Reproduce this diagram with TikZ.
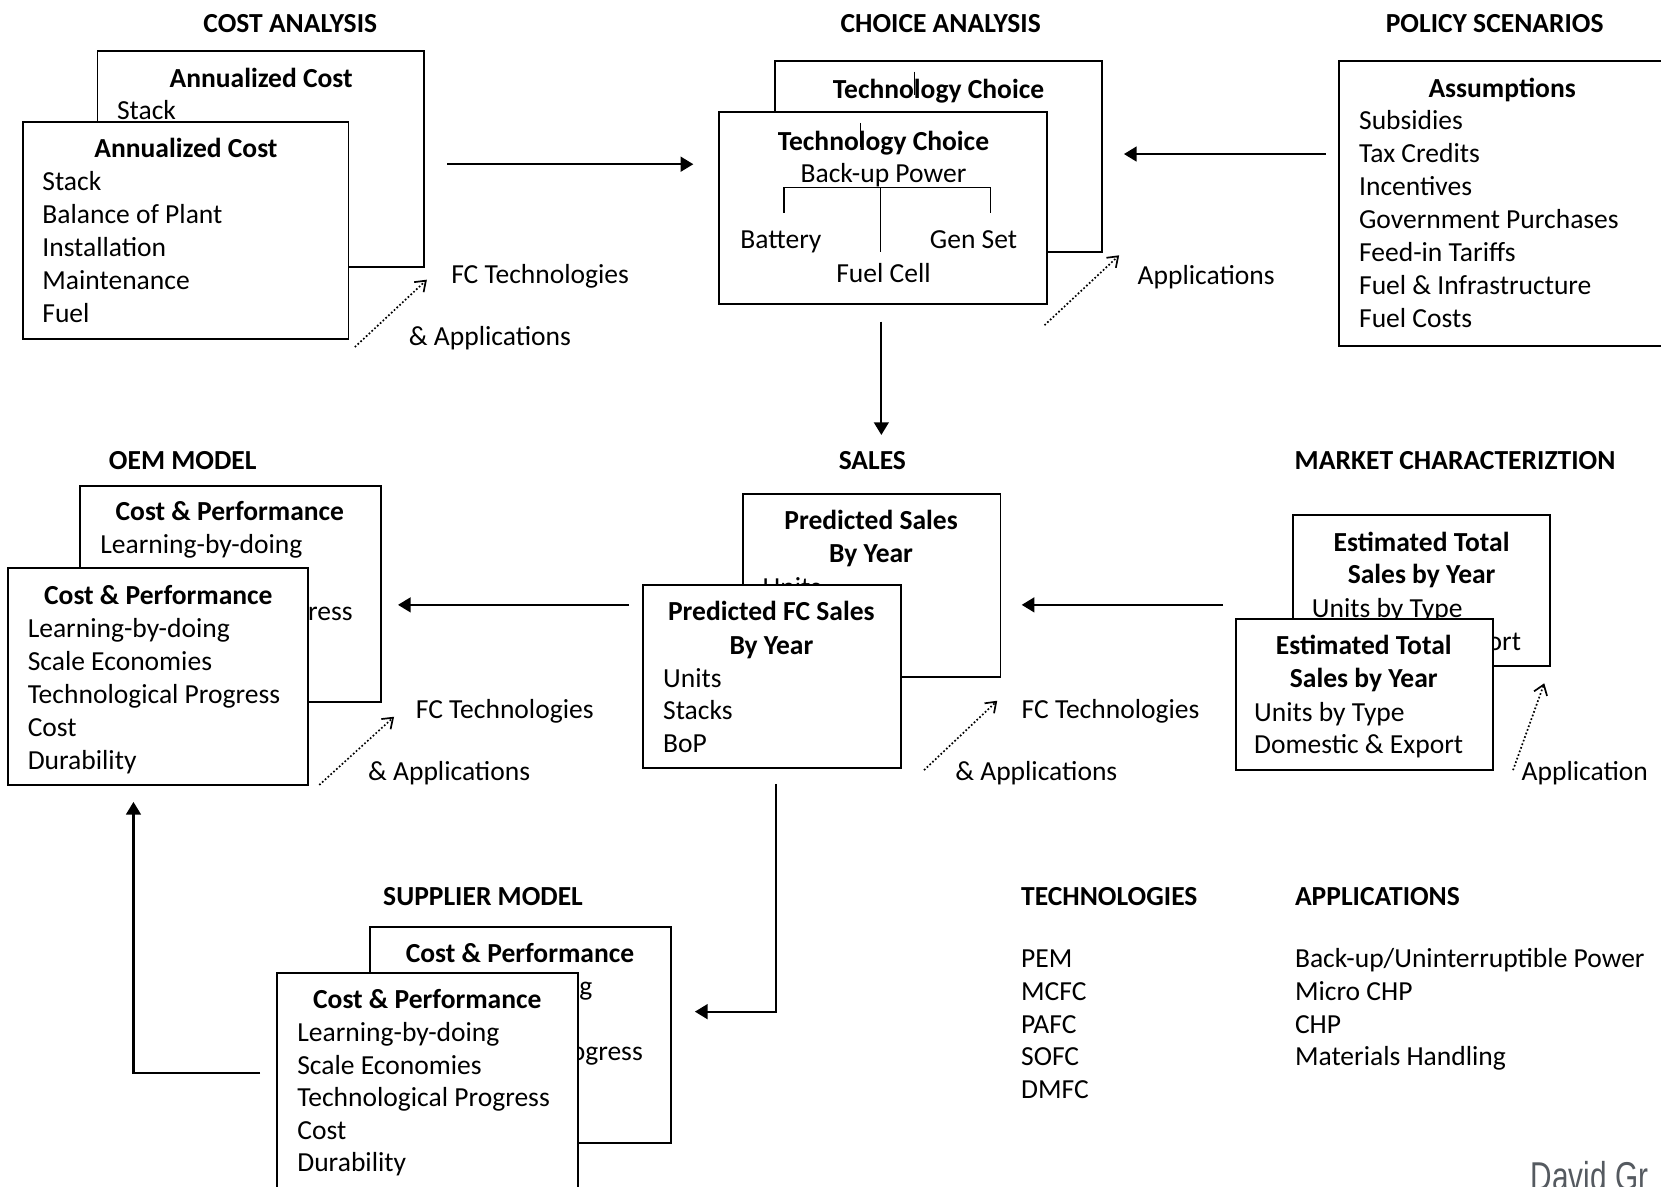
\documentclass[tikz,border=0pt]{standalone}
\usepackage{fontspec}
\setmainfont{Carlito}
\newfontfamily\narrowfont[FakeStretch=0.74]{Liberation Sans}
\usetikzlibrary{arrows.meta,fit}
\definecolor{sig}{RGB}{85,90,96}
\begin{document}
\begin{tikzpicture}[x=0.5pt,y=-0.5pt,
  every node/.style={inner sep=0pt, outer sep=0pt},
  box/.style={draw, line width=0.9pt, fill=white, inner sep=0pt},
  txt/.style={font=\fontsize{13}{15.5}\selectfont, text height=8.4pt, text depth=0pt},
  item/.style={txt, anchor=west},
  ctr/.style={txt, anchor=center},
  ttl/.style={txt, font=\fontsize{13}{15.5}\selectfont\bfseries, anchor=center},
  hdr/.style={ttl},
  hdrl/.style={txt, font=\fontsize{13}{15.5}\selectfont\bfseries, anchor=west},
  flow/.style={line width=1pt, -{Triangle[length=6pt,width=7pt]}},
  hint/.style={line width=0.8pt, densely dotted, -{Straight Barb[length=4.5pt,width=6.5pt]}},
  thinline/.style={line width=0.4pt},
  treeline/.style={line width=0.7pt}
]
\useasboundingbox (0,0) rectangle (1568,1120);
\clip (0,0) rectangle (1568,1120);

% ---------- headers ----------
\node[hdr] (hCost) at (274,22) {COST ANALYSIS};
\node[hdr] (hChoice) at (888,22) {CHOICE ANALYSIS};
\node[hdr] (hPolicy) at (1411,22) {POLICY SCENARIOS};
\node[hdr] (hOem) at (172.5,435) {OEM MODEL};
\node[hdr] (hSales) at (823.5,435) {SALES};
\node[hdr] (hMarket) at (1373.6,435) {MARKET CHARACTERIZTION};
\node[hdr] (hSup) at (456,846.5) {SUPPLIER MODEL};
\node[hdrl] (hTech) at (964,846.5) {TECHNOLOGIES};
\node[hdrl] (hApp) at (1222.5,846.5) {APPLICATIONS};

% ---------- cost analysis ----------
\node[box, fit={(92,48) (400,252)}] (cb) {};
\node[ttl] (cbt) at (246.5,74) {Annualized Cost};
\node[item] (cb1) at (110.5,104.8) {Stack};
\node[box, fit={(21.5,115) (329,320)}] (cf) {};
\node[ttl] (cft) at (175.5,140.6) {Annualized Cost};
\foreach \t [count=\i] in {Stack,Balance of Plant,Installation,Maintenance,Fuel}
  \node[item] (cf\i) at (40,{171.5+(\i-1)*31.1}) {\t};

% ---------- choice analysis ----------
\node[box, fit={(732,57.6) (1040,238)}] (chb) {};
\node[ttl] (chbt) at (886,85) {Technology Choice};
\draw[thinline] (863,67.5) -- (863,89.8);
\node[box, fit={(679,106) (988,287)}] (chf) {};
\node[ttl] (chft) at (834,133.7) {Technology Choice};
\draw[thinline] (812,116) -- (812,138.5);
\node[ctr] (bup) at (834,164) {Back-up Power};
\coordinate (tL) at (740,176.8);
\coordinate (tR) at (935,176.8);
\coordinate (tM) at (831,176.8);
\draw[treeline] ([yshift=-12]tL) -- (tL) -- (tR) -- ([yshift=-12]tR);
\draw[treeline] (tM) -- (831,238);
\node[item] (bat) at (699,226) {Battery};
\node[ctr] (gen) at (919,226) {Gen Set};
\node[ctr] (fcell) at (834,258) {Fuel Cell};

% ---------- policy scenarios ----------
\node[box, fit={(1263.7,57.6) (1580,326.3)}] (pol) {};
\node[ttl] (polt) at (1418,83.4) {Assumptions};
\foreach \t [count=\i] in {Subsidies,Tax Credits,Incentives,Government Purchases,Feed-in Tariffs,Fuel \& Infrastructure,Fuel Costs}
  \node[item] (pol\i) at (1283,{114+(\i-1)*31.1}) {\t};

% ---------- OEM model ----------
\node[box, fit={(75.5,458.5) (359.3,663)}] (ob) {};
\node[ttl] (obt) at (217,483) {Cost \& Performance};
\node[item] (ob1) at (94.7,514.5) {Learning-by-doing};
\node[item] (ob3) at (94.7,577.4) {Technological Progress};
\node[box, fit={(7.8,536.5) (290.8,741)}] (of) {};
\node[ttl] (oft) at (149.5,562.3) {Cost \& Performance};
\foreach \t [count=\i] in {Learning-by-doing,Scale Economies,Technological Progress,Cost,Durability}
  \node[item] (of\i) at (26.2,{593.8+(\i-1)*31}) {\t};

% ---------- sales ----------
\node[box, fit={(701.2,466.4) (944.5,639.4)}] (sb) {};
\node[ttl] (sbt1) at (822.3,491.5) {Predicted Sales};
\node[ttl] (sbt2) at (822.3,523) {By Year};
\node[item] (sb1) at (720,555) {Units};
\node[box, fit={(607.2,552.3) (850.5,725.3)}] (sf) {};
\node[ttl] (sft1) at (728.2,577.4) {Predicted FC Sales};
\node[ttl] (sft2) at (728.2,609) {By Year};
\foreach \t [count=\i] in {Units,Stacks,BoP}
  \node[item] (sf\i) at (626,{640.4+(\i-1)*30.7}) {\t};

% ---------- market ----------
\node[box, fit={(1220.2,486.2) (1462.9,628.7)}] (mb) {};
\node[ttl] (mbt1) at (1342,512.3) {Estimated Total};
\node[ttl] (mbt2) at (1342,542.8) {Sales by Year};
\node[item] (mb1) at (1238.5,574.3) {Units by Type};
\node[item] (mb2) at (1238.5,605.8) {Domestic \& Export};
\node[box, fit={(1166.4,584.4) (1409.6,726.9)}] (mf) {};
\node[ttl] (mft1) at (1287.4,609.8) {Estimated Total};
\node[ttl] (mft2) at (1287.4,640.4) {Sales by Year};
\node[item] (mf1) at (1183.9,672.8) {Units by Type};
\node[item] (mf2) at (1183.9,703.3) {Domestic \& Export};

% ---------- supplier ----------
\node[box, fit={(349.3,874.8) (633.1,1079.3)}] (spb) {};
\node[ttl] (spbt) at (490.9,900) {Cost \& Performance};
\node[item] (spb1) at (368.5,931) {Learning-by-doing};
\node[item] (spb3) at (368.5,993) {Technological Progress};
\node[box, fit={(261.8,918.2) (545.3,1140)}] (spf) {};
\node[ttl] (spft) at (403.4,944) {Cost \& Performance};
\foreach \t [count=\i] in {Learning-by-doing,Scale Economies,Technological Progress,Cost,Durability}
  \node[item] (spf\i) at (280.7,{974.9+(\i-1)*30.7}) {\t};

% ---------- technologies / applications ----------
\foreach \t [count=\i] in {PEM,MCFC,PAFC,SOFC,DMFC}
  \node[item] (tech\i) at (964,{905.3+(\i-1)*30.75}) {\t};
\foreach \t [count=\i] in {Back-up/Uninterruptible Power,Micro CHP,CHP,Materials Handling}
  \node[item] (app\i) at (1222.5,{905.3+(\i-1)*30.75}) {\t};

% ---------- dotted hints ----------
\coordinate (d1s) at (335,327.6); \coordinate (d1e) at (403,264);
\draw[hint] (d1s) -- (d1e);
\node[item] (l1a) at (426,259.6) {FC Technologies};
\node[item] (l1b) at (386,318) {\& Applications};

\coordinate (d2s) at (986,307); \coordinate (d2e) at (1056.5,241);
\draw[hint] (d2s) -- (d2e);
\node[item] (l2a) at (1074,260) {Applications};

\coordinate (d3s) at (301.4,741); \coordinate (d3e) at (372,676.6);
\draw[hint] (d3s) -- (d3e);
\node[item] (l3a) at (392.6,670) {FC Technologies};
\node[item] (l3b) at (347.5,728.5) {\& Applications};

\coordinate (d4s) at (872.3,727); \coordinate (d4e) at (941.4,661.5);
\draw[hint] (d4s) -- (d4e);
\node[item] (l4a) at (964.5,670) {FC Technologies};
\node[item] (l4b) at (901.8,728.5) {\& Applications};

\coordinate (d5s) at (1428.3,727); \coordinate (d5e) at (1457.8,645);
\draw[hint] (d5s) -- (d5e);
\node[item] (l5a) at (1436.5,728.5) {Application};

% ---------- flow arrows ----------
\coordinate (f1s) at (422,155); \coordinate (f1e) at (654.5,155);
\draw[flow] (f1s) -- (f1e);
\coordinate (f2s) at (1251.5,145.4); \coordinate (f2e) at (1061,145.4);
\draw[flow] (f2s) -- (f2e);
\coordinate (f3s) at (832,303.7); \coordinate (f3e) at (832,410.6);
\draw[flow] (f3s) -- (f3e);
\coordinate (f4s) at (594,571); \coordinate (f4e) at (375.7,571);
\draw[flow] (f4s) -- (f4e);
\coordinate (f5s) at (1154.6,571); \coordinate (f5e) at (964.5,571);
\draw[flow] (f5s) -- (f5e);
\coordinate (f6s) at (732.6,740); \coordinate (f6m) at (732.6,955); \coordinate (f6e) at (656,955);
\draw[flow] (f6s) -- (f6m) -- (f6e);
\coordinate (f7s) at (245.5,1013.2); \coordinate (f7m) at (126,1013.2); \coordinate (f7e) at (126,757);
\draw[flow] (f7s) -- (f7m) -- (f7e);

% ---------- signature ----------
\node[anchor=base west, font=\narrowfont\fontsize{19}{22}\selectfont, text=sig] (sign) at (1445,1124) {David Gr};
\end{tikzpicture}
\end{document}
